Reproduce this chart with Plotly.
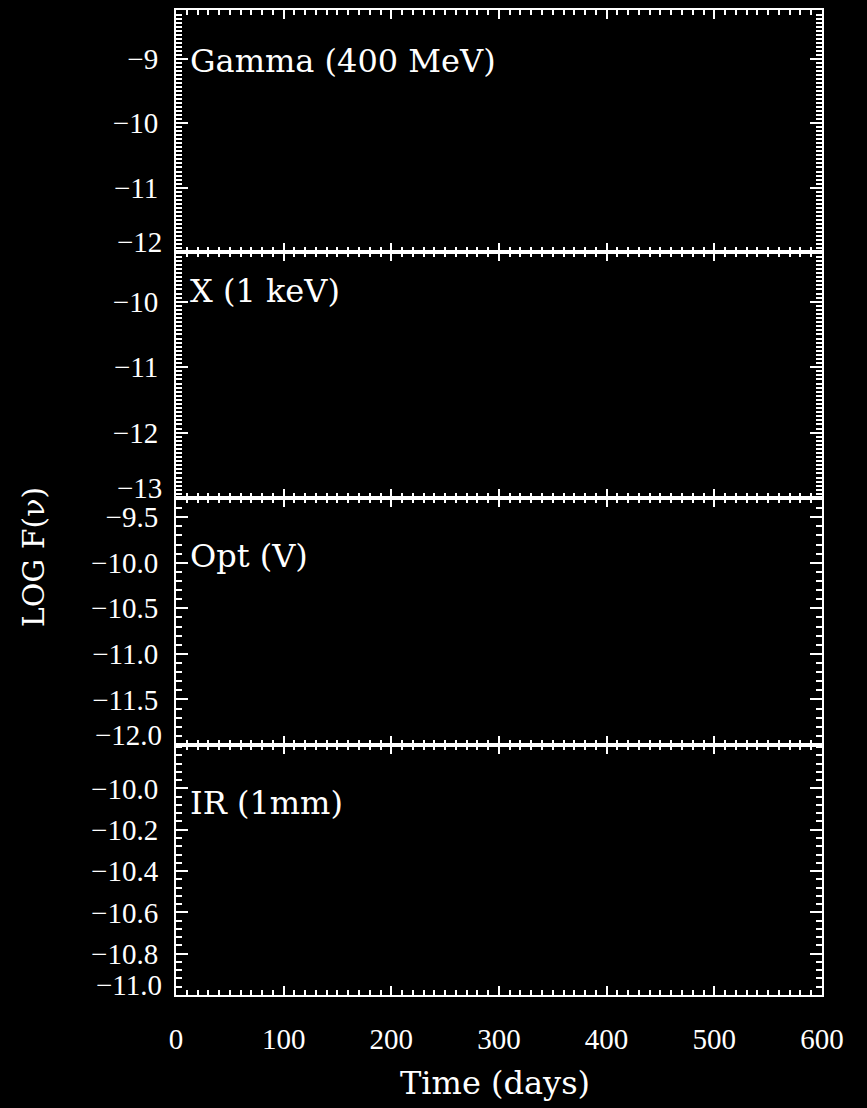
import plotly.graph_objects as go

# Light-curve bands, one stacked panel per band (top to bottom)
band_labels = ["Gamma (400 MeV)", "X (1 keV)", "Opt (V)", "IR (1mm)"]

# Time axis (days)
time_range = [0, 600]
time_ticks = [0, 100, 200, 300, 400, 500, 600]

# LOG F(nu) ranges, tick values and minor spacing per panel
y_ranges = [[-12.0, -8.24], [-13.0, -9.24], [-12.0, -9.29], [-11.0, -9.79]]
y_ticks = [
    [-12, -11, -10, -9],
    [-13, -12, -11, -10],
    [-12.0, -11.5, -11.0, -10.5, -10.0, -9.5],
    [-11.0, -10.8, -10.6, -10.4, -10.2, -10.0],
]
y_minor = [0.0625, 0.0625, 0.1, 0.04]
y_decimals = [0, 0, 1, 1]

# Flux series for each band (no points plotted in this frame)
time_days = [[], [], [], []]
log_flux = [[], [], [], []]

# Panel placement (paper fractions, top panel first)
x_domain = [0.203, 0.948]
y_domains = [[0.7726, 0.991], [0.5505, 0.7726], [0.3276, 0.5505], [0.102, 0.3276]]
label_y = [0.79, 0.84, 0.765, 0.77]

FG = "white"
BG = "black"
tick_font = dict(family="Liberation Serif", size=29, color=FG)
text_font = dict(family="DejaVu Serif", size=32, color=FG)


def fmt(v, dec):
    s = f"{abs(v):.{dec}f}"
    return ("\u2212" + s) if v < 0 else s


fig = go.Figure()

for i in range(4):
    n = "" if i == 0 else str(i + 1)
    fig.add_trace(go.Scatter(
        x=time_days[i], y=log_flux[i], mode="lines",
        line=dict(color=FG, width=2), showlegend=False,
        xaxis="x" + n, yaxis="y" + n,
    ))
    is_bottom = i == 3
    fig.layout["xaxis" + n] = dict(
        domain=x_domain, anchor="y" + n, range=time_range,
        tickvals=time_ticks, showticklabels=is_bottom,
        ticks="inside", ticklen=9, tickwidth=2, tickcolor=FG,
        minor=dict(dtick=10, ticks="inside", ticklen=5, tickwidth=2, tickcolor=FG),
        showline=True, linecolor=FG, linewidth=2, mirror="ticks",
        showgrid=False, zeroline=False, automargin=False,
        tickfont=tick_font, ticklabelstandoff=17,
    )
    # lowest label of each panel is lifted clear of the panel boundary
    vals = y_ticks[i]
    texts = [""] + [fmt(v, y_decimals[i]) for v in vals[1:]]
    fig.layout["yaxis" + n] = dict(
        domain=y_domains[i], anchor="x" + n, range=y_ranges[i],
        tickvals=vals, ticktext=texts,
        ticks="inside", ticklen=12, tickwidth=2, tickcolor=FG,
        minor=dict(dtick=y_minor[i], tick0=0, ticks="inside", ticklen=6,
                   tickwidth=2, tickcolor=FG),
        showline=True, linecolor=FG, linewidth=2, mirror="ticks",
        showgrid=False, zeroline=False, automargin=False,
        tickfont=tick_font, ticklabelstandoff=10,
    )
    fig.add_annotation(
        text=fmt(vals[0], y_decimals[i]), xref="x" + n + " domain", yref="y" + n,
        x=0, y=vals[0], xanchor="right", yanchor="middle", xshift=-12, yshift=10,
        showarrow=False, font=tick_font,
    )
    fig.add_annotation(
        text=band_labels[i], xref="x" + n + " domain", yref="y" + n + " domain",
        x=0.0186, y=label_y[i], xanchor="left", yanchor="middle",
        showarrow=False, font=text_font,
    )

# Axis titles
fig.add_annotation(
    text="Time (days)", xref="paper", yref="paper", x=0.571, y=0.004,
    xanchor="center", yanchor="bottom", showarrow=False,
    font=dict(family="DejaVu Serif", size=32, color=FG),
)
fig.add_annotation(
    text="LOG F(\u03bd)", xref="paper", yref="paper", x=0.038, y=0.497,
    xanchor="center", yanchor="middle", textangle=-90, showarrow=False,
    font=dict(family="DejaVu Serif", size=30, color=FG),
)

fig.update_layout(
    width=867, height=1108,
    margin=dict(l=0, r=0, t=0, b=0),
    paper_bgcolor=BG, plot_bgcolor=BG,
    showlegend=False,
)

fig.write_html("out.html")
